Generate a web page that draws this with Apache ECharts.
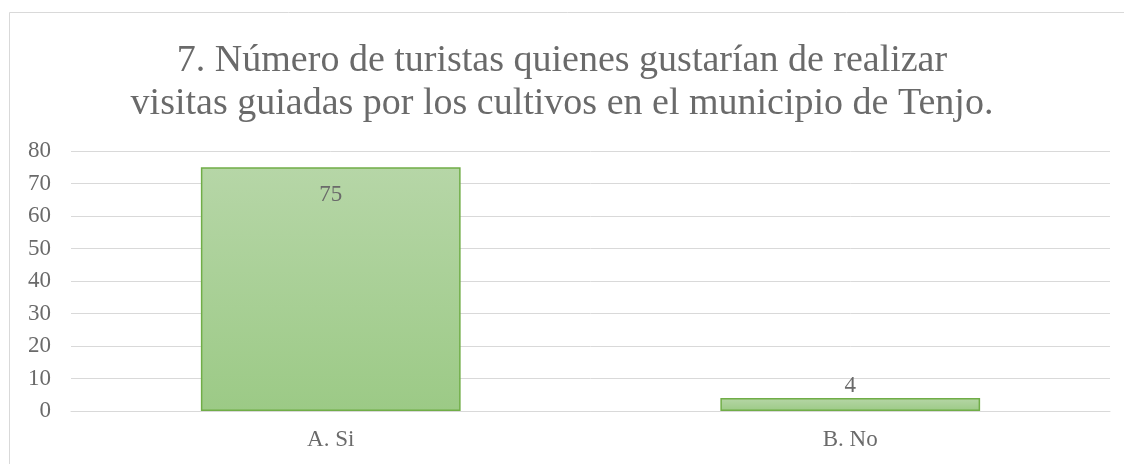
<!DOCTYPE html>
<html>
<head>
<meta charset="utf-8">
<script src="https://cdn.jsdelivr.net/npm/echarts@6/dist/echarts.min.js"></script>
<style>
html,body{margin:0;padding:0;background:#fff;}
#c{width:1124px;height:464px;}
</style>
</head>
<body>
<div id="c"></div>
<script>
const titleText = "7. Número de turistas quienes gustarían de realizar\nvisitas guiadas por los cultivos en el municipio de Tenjo.";
const categories = ["A. Si", "B. No"];
const values = [75, 4];
const yTicks = [0, 10, 20, 30, 40, 50, 60, 70, 80];

const chart = echarts.init(document.getElementById('c'), null, {renderer: 'canvas'});
const font = "'Liberation Serif', 'Times New Roman', serif";
const txt = '#6a6a6a';
chart.setOption({
  animation: false,
  backgroundColor: '#ffffff',
  graphic: [{
    type: 'rect',
    shape: {x: 9.5, y: 12.5, width: 1200, height: 600},
    style: {fill: 'none', stroke: '#d9d9d9', lineWidth: 1},
    silent: true
  }],
  title: {
    text: titleText,
    left: 'center',
    top: 34,
    textStyle: {fontFamily: font, fontSize: 38, fontWeight: 'normal', color: txt, lineHeight: 43.5}
  },
  grid: {left: 71, right: 14, top: 151, bottom: 53, containLabel: false},
  xAxis: {
    type: 'category',
    data: categories,
    axisLine: {lineStyle: {color: '#d9d9d9', width: 1}},
    axisTick: {show: false},
    axisLabel: {fontFamily: font, fontSize: 23, color: txt, margin: 17}
  },
  yAxis: {
    type: 'value',
    min: yTicks[0],
    max: yTicks[yTicks.length - 1],
    interval: yTicks[1] - yTicks[0],
    axisLine: {show: false},
    axisTick: {show: false},
    splitLine: {lineStyle: {color: '#d9d9d9', width: 1}},
    axisLabel: {fontFamily: font, fontSize: 23, color: txt, margin: 20}
  },
  series: [{
    type: 'bar',
    data: values.map(v => v < 20 ? {value: v, label: {position: 'top', distance: 1}} : v),
    barWidth: '50%',
    itemStyle: {
      color: new echarts.graphic.LinearGradient(0, 0, 0, 1, [
        {offset: 0, color: '#b6d6a7'},
        {offset: 1, color: '#9cca86'}
      ]),
      borderColor: '#70ad47',
      borderWidth: 1.5
    },
    label: {
      show: true,
      fontFamily: font,
      fontSize: 23,
      color: txt,
      position: 'insideTop',
      distance: 16
    }
  }]
});
</script>
</body>
</html>
